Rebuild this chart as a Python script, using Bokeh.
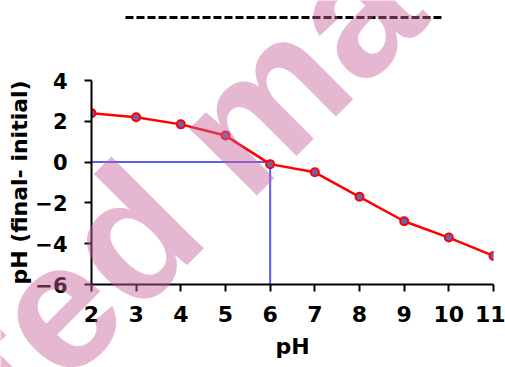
from bokeh.plotting import figure
from bokeh.models import Range1d, FixedTicker, Label
from bokeh.layouts import column, row
from bokeh.embed import file_html
from bokeh.resources import INLINE

# data
ph_initial = [2, 3, 4, 5, 6, 7, 8, 9, 10, 11]
delta_ph = [2.4, 2.2, 1.85, 1.3, -0.1, -0.5, -1.7, -2.9, -3.7, -4.6]
pzc_x = [2, 6, 6]
pzc_y = [0, 0, -6]
x_ticks = [2, 3, 4, 5, 6, 7, 8, 9, 10, 11]
y_ticks = [-6, -4, -2, 0, 2, 4]

FONT = "DejaVu Sans"
W, H = 505, 367

p = figure(width=W, height=H, x_range=Range1d(2, 11), y_range=Range1d(-6, 4),
           output_backend="svg", toolbar_location=None,
           min_border_left=91, min_border_right=12, min_border_top=80, min_border_bottom=83)
p.outline_line_color = None
p.xgrid.visible = False
p.ygrid.visible = False
p.background_fill_color = "white"

p.xaxis.ticker = FixedTicker(ticks=x_ticks)
p.yaxis.ticker = FixedTicker(ticks=y_ticks)
for ax in (p.xaxis, p.yaxis):
    ax.axis_line_width = 2
    ax.axis_line_color = "black"
    ax.major_tick_line_width = 2
    ax.major_tick_line_color = "black"
    ax.major_tick_out = 7
    ax.major_tick_in = 0
    ax.minor_tick_line_color = None
    ax.major_label_text_font = FONT
    ax.major_label_text_font_style = "bold"
    ax.major_label_text_color = "black"
    ax.axis_label_text_font = FONT
    ax.axis_label_text_font_style = "bold"
    ax.axis_label_text_font_size = "22px"
    ax.axis_label_text_color = "black"

p.xaxis.axis_label = "pH"
p.yaxis.axis_label = "pH (final- initial)"
p.xaxis.major_label_text_font_size = "22px"
p.yaxis.major_label_text_font_size = "21px"
p.xaxis.major_label_standoff = 14
p.yaxis.major_label_standoff = 17
p.xaxis.axis_label_standoff = 9
p.yaxis.axis_label_standoff = 0

p.line(pzc_x, pzc_y, line_color="#4b4bef", line_width=2, line_alpha=0.9)
p.line(ph_initial, delta_ph, line_color="red", line_width=2.5)
p.scatter(ph_initial, delta_ph, size=8, fill_color="#6a64b0", line_color="red", line_width=2)

# transparent overlay layer (pixel coordinates) for the decorative dashed
# rule at the top and the diagonal watermark that crosses the whole picture
ov = figure(width=W, height=H, x_range=Range1d(0, W), y_range=Range1d(0, H),
            x_axis_type=None, y_axis_type=None, output_backend="svg",
            toolbar_location=None, min_border=0)
ov.grid.visible = False
ov.outline_line_color = None
ov.background_fill_color = None
ov.border_fill_color = None

ov.line([125, 443], [350, 350], line_color="black", line_width=3, line_dash="8 3")

watermark = Label(x=-23, y=-19, text="ted ma", angle=45, angle_units="deg",
                  text_font="Liberation Sans", text_font_style="bold",
                  text_font_size="180px", text_align="left", text_baseline="alphabetic",
                  text_color="#c8609a", text_alpha=0.45)
ov.add_layout(watermark)

overlay = row(ov, margin=(-H, 0, 0, 0))
layout = column(p, overlay, spacing=0)
open("out.html", "w").write(file_html(layout, INLINE))
